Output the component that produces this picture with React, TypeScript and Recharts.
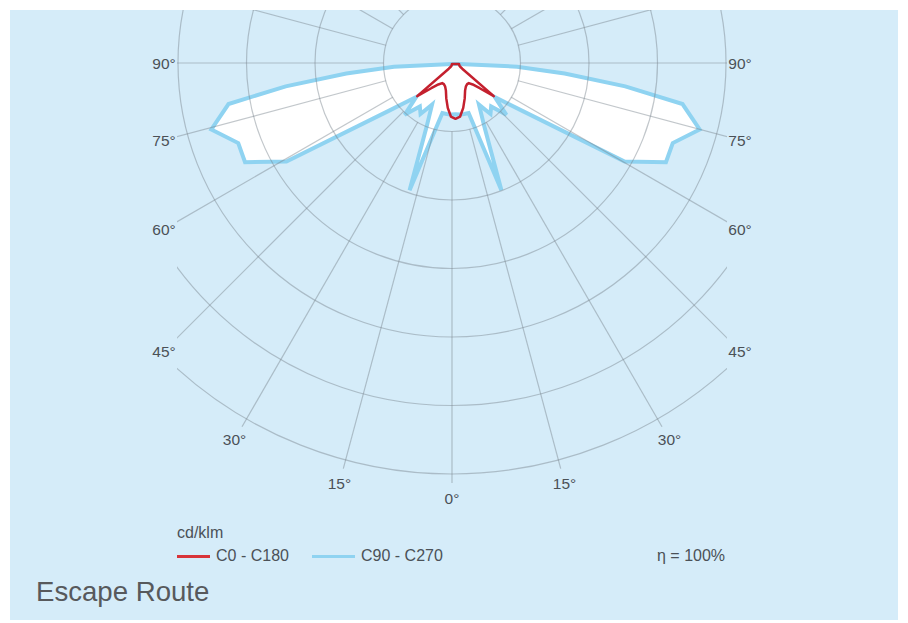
import {
  RadarChart,
  Radar,
  PolarGrid,
  PolarAngleAxis,
  PolarRadiusAxis,
} from "recharts";

// gamma angles (deg), negative = right half, positive = left half
const gammas = [
  -90, -87.5, -85, -82.5, -80, -75, -70, -65, -60, -55, -50, -45, -40, -35,
  -30, -25, -20, -15, -10, -5, 0, 5, 10, 15, 20, 25, 30, 35, 40, 45, 50, 55,
  60, 65, 70, 75, 80, 82.5, 85, 87.5, 90,
];

// cd/klm
const c0c180 = [
  10, 10, 11, 11, 11, 11, 12, 13, 16, 24, 146, 100, 78, 68, 68, 72, 82, 104, 130,
  154, 160, 154, 130, 104, 82, 72, 68, 68, 78, 100, 146, 24, 16, 13, 12, 11, 11,
  11, 11, 10, 10,
];
const c90c270 = [
  10, 180, 320, 500, 673, 738, 675, 678, 570, 240, 150, 210, 162, 178, 137, 197,
  392, 148, 148, 148, 147, 148, 148, 148, 392, 197, 137, 178, 162, 210, 150, 240,
  570, 678, 675, 738, 673, 500, 320, 180, 10,
];

// grid: radial lines every 15 deg, rings every 200 cd/klm
const gridAngles = [
  0, 15, 30, 45, 60, 75, 90, 105, 120, 135, 150, 165, 180, 195, 210, 225, 240,
  255, 270, 285, 300, 315, 330, 345,
];
const angleLabels = [
  "0°", "15°", "30°", "45°", "60°", "75°", "90°", "", "", "", "", "", "", "",
  "", "", "", "", "90°", "75°", "60°", "45°", "30°", "15°",
];
const rings = [200, 400, 600, 800, 1000, 1200];
const radiusLabels = [400, 600, 800, 1000];

const data = gammas.map((g, i) => ({ gamma: g, c0: c0c180[i], c90: c90c270[i] }));
const tickData = gridAngles.map((d) => ({ deg: d }));

const MAX = 1200;
const R = 411; // px for MAX
const CX = 442; // grid centre inside panel
const CY = 53;
const CLIP_L = 167;
const CLIP_W = 550;

const BG = "#d5ecf9";
const BLUE = "#8fd3f1";
const RED = "#c4202e";
const TEXT = "#4b5157";
const FONT = "'Liberation Sans', Arial, Helvetica, sans-serif";

const AngleTick = (props: any) => {
  const deg = Number(props.payload?.value);
  const text = angleLabels[gridAngles.indexOf(deg)];
  if (!text) return <g />;
  const rad = (deg * Math.PI) / 180;
  const sx = Math.sin(rad);
  const sy = Math.cos(rad);
  const r = Math.abs(sx) > 0.01 ? Math.min(435, 288 / Math.abs(sx)) : 435;
  return (
    <text
      x={CX + r * sx}
      y={CY + r * sy}
      textAnchor="middle"
      dominantBaseline="central"
      fontSize={15.5}
      fill={TEXT}
      fontFamily={FONT}
    >
      {text}
    </text>
  );
};

const RadiusTick = (props: any) => {
  const v = Number(props.payload?.value);
  if (!radiusLabels.includes(v)) return <g />;
  return (
    <text
      x={props.x}
      y={props.y + 1}
      textAnchor="middle"
      dominantBaseline="central"
      fontSize={15.5}
      fill={TEXT}
      fontFamily={FONT}
    >
      {v}
    </text>
  );
};

const abs: React.CSSProperties = { position: "absolute", left: 0, top: 0 };

export default function App() {
  return (
    <div style={{ position: "relative", width: 900, height: 615 }}>
      <div
        style={{
          position: "absolute",
          left: 2,
          top: 2,
          width: 888,
          height: 610,
          background: BG,
          overflow: "hidden",
          fontFamily: FONT,
        }}
      >
        {/* curves */}
        <div style={abs}>
          <RadarChart
            width={888}
            height={520}
            data={data}
            cx={CX + 3.5}
            cy={CY + 1}
            outerRadius={R}
            startAngle={90}
            endAngle={-270}
          >
            <PolarAngleAxis
              dataKey="gamma"
              type="number"
              domain={[-180, 180]}
              tick={false}
              axisLine={false}
              tickLine={false}
            />
            <PolarRadiusAxis
              type="number"
              domain={[0, MAX]}
              tick={false}
              axisLine={false}
            />
            <Radar
              dataKey="c90"
              stroke={BLUE}
              strokeWidth={4}
              fill="#ffffff"
              fillOpacity={1}
              isAnimationActive={false}
            />
            <Radar
              dataKey="c0"
              stroke={RED}
              strokeWidth={2.5}
              strokeLinejoin="round"
              fill="none"
              fillOpacity={0}
              isAnimationActive={false}
            />
          </RadarChart>
        </div>

        {/* grid, clipped left/right */}
        <div
          style={{
            position: "absolute",
            left: CLIP_L,
            top: 0,
            width: CLIP_W,
            height: 520,
            overflow: "hidden",
          }}
        >
          <RadarChart
            width={CLIP_W}
            height={520}
            data={tickData}
            cx={CX - CLIP_L}
            cy={CY}
            innerRadius={(R * rings[0]) / MAX}
            outerRadius={420}
          >
            <PolarGrid
              gridType="circle"
              polarAngles={gridAngles}
              polarRadius={rings.map((v) => (R * v) / MAX)}
              stroke="#78828c"
              strokeOpacity={0.45}
              strokeWidth={1.2}
            />
          </RadarChart>
        </div>

        {/* labels */}
        <div style={abs}>
          <RadarChart
            width={888}
            height={520}
            data={tickData}
            cx={CX}
            cy={CY}
            outerRadius={R}
            startAngle={-90}
            endAngle={270}
          >
            <PolarAngleAxis
              dataKey="deg"
              type="category"
              tick={AngleTick}
              axisLine={false}
              tickLine={false}
            />
            <PolarRadiusAxis
              type="number"
              domain={[0, MAX]}
              tickCount={7}
              angle={-90}
              tick={RadiusTick}
              axisLine={false}
              tickLine={false}
            />
          </RadarChart>
        </div>

        {/* legend */}
        <div style={{ position: "absolute", left: 167, top: 514.5, fontSize: 16, lineHeight: "16px", color: TEXT }}>
          cd/klm
        </div>
        <div style={{ position: "absolute", left: 167, top: 544.5, width: 33, height: 3, background: "#d8343a" }} />
        <div style={{ position: "absolute", left: 206, top: 537.5, fontSize: 16, lineHeight: "16px", color: TEXT }}>
          C0 - C180
        </div>
        <div style={{ position: "absolute", left: 302, top: 544.5, width: 43, height: 3, background: BLUE }} />
        <div style={{ position: "absolute", left: 351, top: 537.5, fontSize: 16, lineHeight: "16px", color: TEXT }}>
          C90 - C270
        </div>
        <div style={{ position: "absolute", left: 647, top: 537.5, fontSize: 16, lineHeight: "16px", color: TEXT }}>
          η = 100%
        </div>
        <div style={{ position: "absolute", left: 26, top: 567.5, fontSize: 27.6, lineHeight: "27.6px", color: "#57595c" }}>
          Escape Route
        </div>
      </div>
    </div>
  );
}
